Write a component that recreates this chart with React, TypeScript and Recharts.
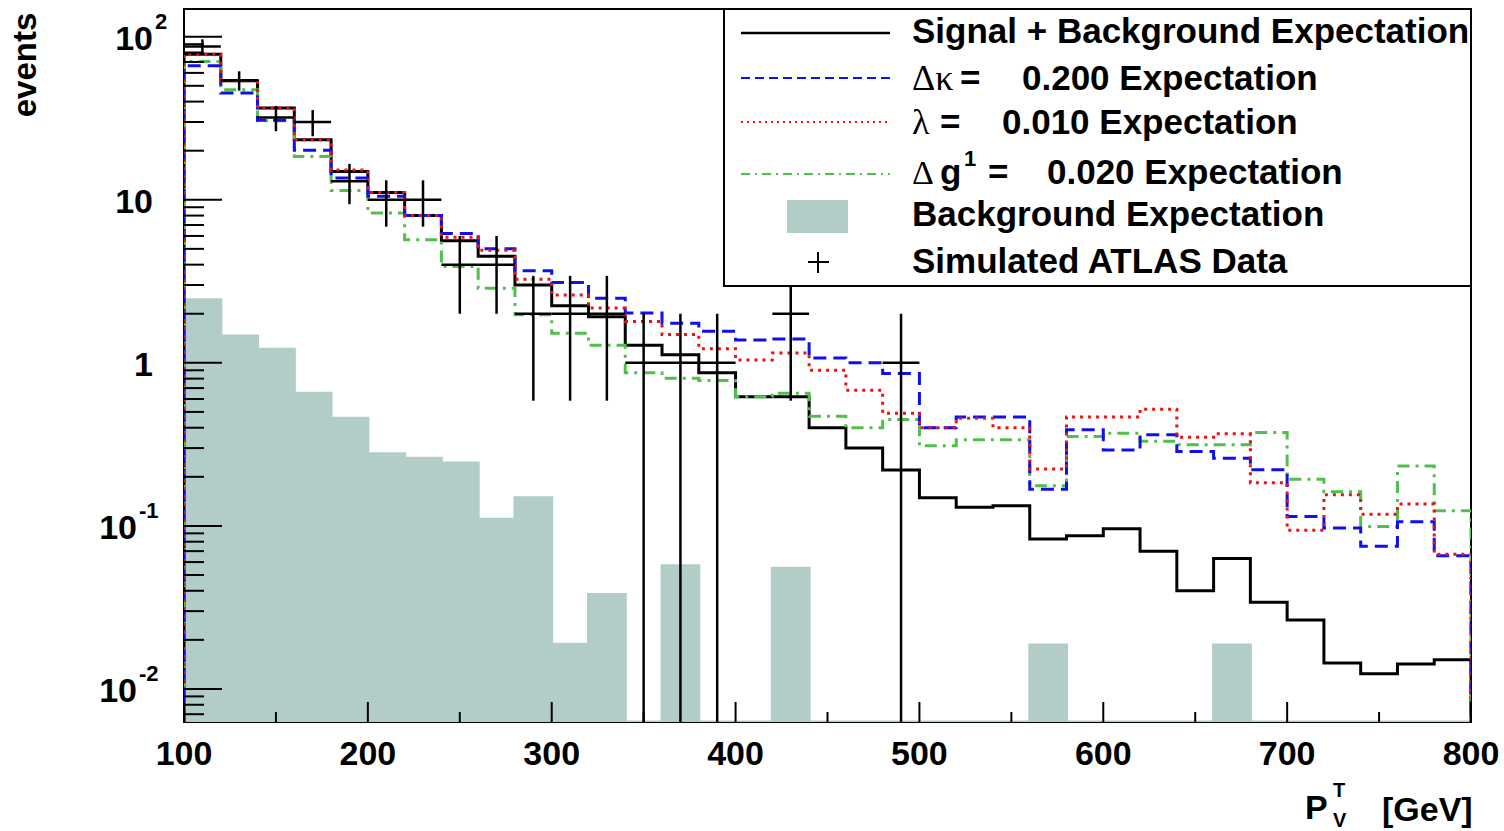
import {
  Area,
  ComposedChart,
  ErrorBar,
  Line,
  ReferenceArea,
  Scatter,
  XAxis,
  YAxis,
} from 'recharts'

// bin edges in GeV (20 GeV bins)
const X_EDGES = [
  100, 120, 140, 160, 180, 200, 220, 240, 260, 280, 300, 320, 340, 360, 380, 400, 420, 440,
  460, 480, 500, 520, 540, 560, 580, 600, 620, 640, 660, 680, 700, 720, 740, 760, 780, 800,
]

// signal + background expectation (black solid)
const SIG_BKG = [
  78, 53.7, 36.5, 23.3, 14.9, 11.1, 8.0, 5.6, 4.5, 3.0, 2.24, 1.92, 1.28, 1.12, 0.87, 0.62,
  0.62, 0.4, 0.3, 0.22, 0.149, 0.13, 0.133, 0.083, 0.087, 0.096, 0.07, 0.04, 0.063, 0.034,
  0.0265, 0.0144, 0.0124, 0.0142, 0.0151,
]

// delta kappa = 0.200 (blue dashed)
const DELTA_KAPPA = [
  66.4, 45.2, 30.7, 20.1, 13.6, 10.5, 8.0, 6.2, 5.0, 3.67, 3.11, 2.49, 2.02, 1.75, 1.56, 1.38,
  1.4, 1.07, 1.0, 0.86, 0.4, 0.465, 0.465, 0.168, 0.388, 0.292, 0.362, 0.286, 0.26, 0.221,
  0.114, 0.097, 0.075, 0.106, 0.0655,
]

// lambda = 0.010 (red dotted)
const LAMBDA = [
  78, 53.7, 36.5, 23.3, 15.2, 11.1, 8.0, 5.9, 4.9, 3.26, 2.61, 2.17, 1.79, 1.49, 1.22, 1.04,
  1.15, 0.9, 0.68, 0.49, 0.4, 0.458, 0.4, 0.223, 0.465, 0.465, 0.52, 0.35, 0.367, 0.184,
  0.094, 0.155, 0.118, 0.136, 0.067,
]

// delta g1 = 0.020 (green dash-dot)
const DELTA_G1 = [
  70.5, 47.3, 30.5, 18.4, 11.4, 8.3, 5.69, 3.9, 2.87, 1.97, 1.52, 1.28, 0.87, 0.805, 0.78, 0.62,
  0.65, 0.47, 0.4, 0.45, 0.31, 0.337, 0.337, 0.176, 0.353, 0.37, 0.33, 0.314, 0.314, 0.374,
  0.193, 0.162, 0.099, 0.233, 0.124,
]

// background expectation (filled)
const BACKGROUND = [
  2.44, 1.46, 1.21, 0.65, 0.458, 0.277, 0.26, 0.243, 0.11, 0.149, 0.0188, 0.038, 0, 0.057, 0, 0,
  0.055, 0, 0, 0, 0, 0, 0, 0.0186, 0, 0, 0, 0, 0.0186, 0, 0, 0, 0, 0, 0,
]

// simulated ATLAS data, event counts per bin
const DATA_COUNTS = [
  87, 54, 32, 30, 13, 10, 10, 4, 4, 2, 2, 2, 1, 1, 1, 0, 2, 0, 0, 1, 0, 0, 0, 0, 0, 0, 0, 0, 0,
  0, 0, 0, 0, 0, 0,
]

const X_TICKS = [100, 150, 200, 250, 300, 350, 400, 450, 500, 550, 600, 650, 700, 750, 800]
const X_MAJOR = [100, 200, 300, 400, 500, 600, 700, 800]

const Y_TICKS = [
  0.007, 0.008, 0.009, 0.01, 0.02, 0.03, 0.04, 0.05, 0.06, 0.07, 0.08, 0.09, 0.1, 0.2, 0.3, 0.4,
  0.5, 0.6, 0.7, 0.8, 0.9, 1, 2, 3, 4, 5, 6, 7, 8, 9, 10, 20, 30, 40, 50, 60, 70, 80, 90, 100,
]
const Y_LABELS = [
  { v: 0.01, base: '10', exp: '-2' },
  { v: 0.1, base: '10', exp: '-1' },
  { v: 1, base: '1', exp: '' },
  { v: 10, base: '10', exp: '' },
  { v: 100, base: '10', exp: '2' },
]

const YMIN = 0.00627
const YMAX = 147.9

const FONT = '"Liberation Sans", Arial, Helvetica, sans-serif'
const SERIF = '"Liberation Serif", "Times New Roman", serif'
const TEAL = '#b2cdc7'
const BLUE = '#1010ee'
const RED = '#f01010'
const GREEN = '#52bf4c'

function stepData(values: number[]) {
  const pts = [{ x: X_EDGES[0], y: YMIN }]
  values.forEach((v, i) => pts.push({ x: X_EDGES[i], y: v > 0 ? v : YMIN }))
  const last = values[values.length - 1]
  pts.push({ x: X_EDGES[values.length], y: last > 0 ? last : YMIN })
  pts.push({ x: X_EDGES[values.length], y: YMIN })
  return pts
}

const dataPoints = DATA_COUNTS.flatMap((n, i) => {
  if (n <= 0) return []
  const err = Math.sqrt(n)
  const low = n - err > YMIN ? err : n - YMIN
  return [
    {
      x: (X_EDGES[i] + X_EDGES[i + 1]) / 2,
      y: n,
      yErr: [low, err],
      xErr: (X_EDGES[i + 1] - X_EDGES[i]) / 2,
    },
  ]
})

function YTick(props: any) {
  const { x, y, payload } = props
  const label = Y_LABELS.find((l) => l.v === payload.value)
  const baseRight = label && label.exp.startsWith('-') ? 137 : 153
  return (
    <g>
      <line x1={x} x2={x + (label ? 38 : 20)} y1={y} y2={y} stroke="#000" strokeWidth={2} />
      {label ? (
        <text fontFamily={FONT} fontWeight="bold" fill="#000">
          <tspan x={baseRight} y={y + 13} textAnchor="end" fontSize={34}>
            {label.base}
          </tspan>
          {label.exp ? (
            <tspan x={baseRight + 2} y={y - 8} fontSize={22}>
              {label.exp}
            </tspan>
          ) : null}
        </text>
      ) : null}
    </g>
  )
}

function XTick(props: any) {
  const { x, y, payload } = props
  const major = X_MAJOR.includes(payload.value)
  return (
    <g>
      <line x1={x} x2={x} y1={y} y2={y - (major ? 20 : 10)} stroke="#000" strokeWidth={2} />
      {major ? (
        <text
          x={x}
          y={y + 43}
          textAnchor="middle"
          fontFamily={FONT}
          fontWeight="bold"
          fontSize={34}
          fill="#000"
        >
          {payload.value}
        </text>
      ) : null}
    </g>
  )
}

function LegendBox() {
  const textProps = { fontFamily: FONT, fontWeight: 'bold' as const, fontSize: 35, fill: '#000' }
  return (
    <svg
      width={1504}
      height={831}
      style={{ position: 'absolute', left: 0, top: 0, pointerEvents: 'none' }}
    >
      <rect x={724} y={9} width={747} height={277} fill="#fff" stroke="#000" strokeWidth={2} />
      <line x1={741} x2={890} y1={33} y2={33} stroke="#000" strokeWidth={2.5} />
      <text x={912} y={43} {...textProps}>
        Signal + Background Expectation
      </text>

      <line x1={741} x2={890} y1={78} y2={78} stroke={BLUE} strokeWidth={2} strokeDasharray="9 5" />
      <text x={912} y={90} {...textProps}>
        <tspan fontFamily={SERIF} fontWeight="normal" fontSize={36}>
          Δκ
        </tspan>
        <tspan x={960}>=</tspan>
        <tspan x={1022}>0.200 Expectation</tspan>
      </text>

      <line x1={741} x2={890} y1={122} y2={122} stroke={RED} strokeWidth={2} strokeDasharray="2 4" />
      <text x={912} y={134} {...textProps}>
        <tspan fontFamily={SERIF} fontWeight="normal" fontSize={36}>
          λ
        </tspan>
        <tspan x={940}>=</tspan>
        <tspan x={1002}>0.010 Expectation</tspan>
      </text>

      <line
        x1={741}
        x2={890}
        y1={174}
        y2={174}
        stroke={GREEN}
        strokeWidth={2}
        strokeDasharray="9 5 2 5"
      />
      <text x={912} y={184} {...textProps}>
        <tspan fontFamily={SERIF} fontWeight="normal" fontSize={34}>
          Δ
        </tspan>
        <tspan x={940}>g</tspan>
        <tspan x={964} y={166} fontSize={22}>
          1
        </tspan>
        <tspan x={988} y={184}>
          =
        </tspan>
        <tspan x={1047}>0.020 Expectation</tspan>
      </text>

      <rect x={787} y={200} width={61} height={33} fill={TEAL} />
      <text x={912} y={226} {...textProps}>
        Background Expectation
      </text>

      <line x1={808} x2={829} y1={262} y2={262} stroke="#000" strokeWidth={2} />
      <line x1={818} x2={818} y1={252} y2={273} stroke="#000" strokeWidth={2} />
      <text x={912} y={273} {...textProps}>
        Simulated ATLAS Data
      </text>

      <text
        transform="translate(36,65) rotate(-90)"
        textAnchor="middle"
        fontFamily={FONT}
        fontWeight="bold"
        fontSize={33}
        fill="#000"
      >
        events
      </text>

      <text fontFamily={FONT} fontWeight="bold" fill="#000">
        <tspan x={1305} y={819} fontSize={34}>
          P
        </tspan>
        <tspan x={1333} y={797} fontSize={20}>
          T
        </tspan>
        <tspan x={1333} y={827} fontSize={20}>
          V
        </tspan>
        <tspan x={1382} y={821} fontSize={34}>
          [GeV]
        </tspan>
      </text>
    </svg>
  )
}

export default function App() {
  return (
    <div style={{ position: 'absolute', left: 0, top: 0, width: 1504, height: 831, background: '#fff' }}>
      <ComposedChart width={1504} height={831} margin={{ top: 9, right: 33, bottom: 0, left: 0 }}>
        <XAxis
          dataKey="x"
          type="number"
          domain={[100, 800]}
          allowDataOverflow
          ticks={X_TICKS}
          tick={<XTick />}
          tickSize={0}
          tickMargin={0}
          tickLine={false}
          axisLine={false}
          height={109}
          interval={0}
        />
        <YAxis
          scale="log"
          domain={[YMIN, YMAX]}
          allowDataOverflow
          ticks={Y_TICKS}
          tick={<YTick />}
          tickSize={0}
          tickMargin={0}
          tickLine={false}
          axisLine={false}
          width={184}
          interval={0}
        />
        <ReferenceArea
          x1={100}
          x2={800}
          y1={YMIN}
          y2={YMAX}
          fill="none"
          stroke="#000"
          strokeWidth={2}
          ifOverflow="visible"
        />
        <Area
          data={stepData(BACKGROUND)}
          dataKey="y"
          type="stepAfter"
          baseValue={YMIN}
          stroke={TEAL}
          strokeWidth={3}
          fill={TEAL}
          fillOpacity={1}
          isAnimationActive={false}
          dot={false}
          activeDot={false}
        />
        <Line
          data={stepData(SIG_BKG)}
          dataKey="y"
          type="stepAfter"
          stroke="#000"
          strokeWidth={3}
          dot={false}
          activeDot={false}
          isAnimationActive={false}
        />
        <Line
          data={stepData(DELTA_G1)}
          dataKey="y"
          type="stepAfter"
          stroke={GREEN}
          strokeWidth={3}
          strokeDasharray="12 6 3 6"
          dot={false}
          activeDot={false}
          isAnimationActive={false}
        />
        <Line
          data={stepData(DELTA_KAPPA)}
          dataKey="y"
          type="stepAfter"
          stroke={BLUE}
          strokeWidth={3}
          strokeDasharray="13 7"
          dot={false}
          activeDot={false}
          isAnimationActive={false}
        />
        <Line
          data={stepData(LAMBDA)}
          dataKey="y"
          type="stepAfter"
          stroke={RED}
          strokeWidth={3}
          strokeDasharray="3 5"
          dot={false}
          activeDot={false}
          isAnimationActive={false}
        />
        <Scatter data={dataPoints} dataKey="y" shape={() => <g />} isAnimationActive={false}>
          <ErrorBar dataKey="yErr" direction="y" width={0} stroke="#000" strokeWidth={2.5} />
          <ErrorBar dataKey="xErr" direction="x" width={0} stroke="#000" strokeWidth={2.5} />
        </Scatter>
      </ComposedChart>
      <LegendBox />
    </div>
  )
}
